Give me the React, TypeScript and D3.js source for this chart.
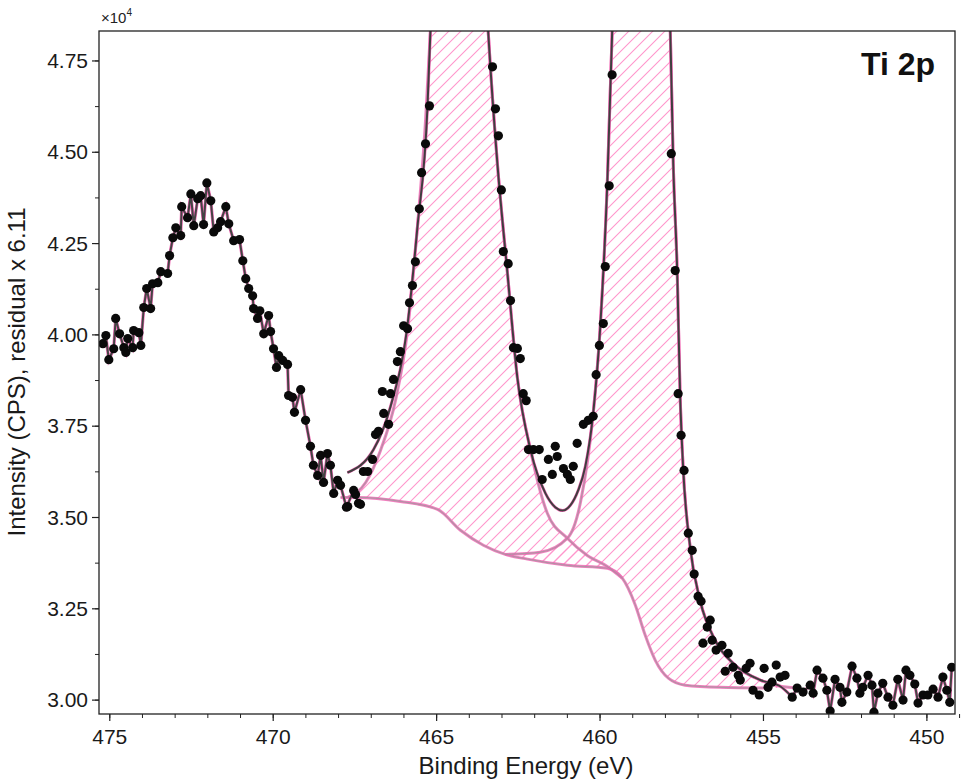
import React from "react"
import * as d3 from "d3"

type Pt = [number, number]

// measured points, [binding energy eV, intensity x1e4 CPS]
const dataLeft: Pt[] = [
  [475.21, 3.976], [475.12, 3.998], [475.03, 3.932], [474.88, 3.962], [474.82, 4.045], [474.7, 4.003],
  [474.57, 3.965], [474.51, 3.952], [474.45, 3.99], [474.3, 3.965], [474.27, 4.012], [474.11, 4.006],
  [474.05, 3.971], [473.96, 4.075], [473.87, 4.127], [473.75, 4.072], [473.69, 4.14], [473.53, 4.143],
  [473.44, 4.173], [473.23, 4.168], [473.17, 4.217], [473.07, 4.266], [472.98, 4.293], [472.83, 4.272],
  [472.8, 4.351], [472.62, 4.321], [472.52, 4.386], [472.43, 4.299], [472.31, 4.373], [472.22, 4.381],
  [472.13, 4.302], [472.03, 4.416], [471.91, 4.367], [471.82, 4.282], [471.7, 4.293], [471.61, 4.31],
  [471.45, 4.351], [471.36, 4.304], [471.21, 4.258], [471.03, 4.261], [470.93, 4.203], [470.84, 4.154],
  [470.75, 4.127], [470.63, 4.107], [470.6, 4.072], [470.48, 4.045], [470.41, 4.066], [470.29, 4.003],
  [470.14, 4.053], [470.08, 4.009], [469.99, 3.962], [469.9, 3.911], [469.83, 3.943], [469.71, 3.93],
  [469.56, 3.919], [469.53, 3.834], [469.41, 3.829], [469.35, 3.788], [469.16, 3.85], [469.01, 3.766],
  [468.86, 3.695], [468.77, 3.643], [468.64, 3.615], [468.55, 3.67], [468.46, 3.596], [468.34, 3.675],
  [468.25, 3.643], [468.15, 3.566], [468.03, 3.602], [467.94, 3.588], [467.76, 3.528], [467.54, 3.574],
  [467.48, 3.563], [467.39, 3.539],
]

const dataMid: Pt[] = [
  [467.72, 3.53], [467.33, 3.536], [467.24, 3.626], [467.11, 3.626], [466.96, 3.659], [466.87, 3.727],
  [466.78, 3.736], [466.62, 3.785], [466.47, 3.755], [466.66, 3.845], [466.41, 3.839], [466.32, 3.878],
  [466.2, 3.927], [466.11, 3.954], [466.01, 4.025], [465.89, 4.017], [465.83, 4.088], [465.74, 4.135],
  [465.65, 4.2], [465.53, 4.345], [465.46, 4.444], [465.34, 4.523], [465.22, 4.627], [463.29, 4.734],
  [463.2, 4.619], [463.11, 4.545], [463.02, 4.397], [462.96, 4.228], [462.81, 4.195], [462.74, 4.094],
  [462.65, 3.965], [462.53, 3.963], [462.44, 3.935], [462.35, 3.839], [462.26, 3.82], [462.19, 3.686],
  [462.04, 3.686], [461.86, 3.686], [461.58, 3.659], [461.37, 3.695], [461.31, 3.667], [461.77, 3.604],
  [461.46, 3.618], [461.12, 3.634], [461.0, 3.618], [460.91, 3.604], [460.82, 3.64], [460.7, 3.703],
  [460.51, 3.755], [460.36, 3.766], [460.21, 3.777], [460.12, 3.891], [460.02, 3.971], [459.9, 4.031],
  [459.84, 4.187], [459.72, 4.408], [459.63, 4.712], [457.82, 4.496], [457.7, 4.176], [457.61, 3.839],
  [457.52, 3.725], [457.43, 3.629], [457.3, 3.457], [457.18, 3.41], [457.12, 3.345], [457.0, 3.284],
  [456.91, 3.271], [456.63, 3.219], [456.72, 3.2], [456.85, 3.156], [456.57, 3.164], [456.45, 3.137],
  [456.27, 3.15], [456.08, 3.128], [456.17, 3.079], [455.93, 3.09], [455.77, 3.068], [455.71, 3.055],
  [455.53, 3.087], [455.41, 3.101], [455.32, 3.027], [455.13, 3.014], [454.98, 3.087], [454.86, 3.035],
  [454.74, 3.049], [454.61, 3.096], [454.49, 3.063], [454.34, 3.068],
]

const dataRight: Pt[] = [
  [454.12, 3.008], [453.97, 3.033], [453.79, 3.022], [453.57, 3.041], [453.48, 3.019], [453.36, 3.082],
  [453.18, 3.06], [453.06, 3.027], [452.96, 2.97], [452.81, 3.057], [452.66, 3.035], [452.6, 2.994],
  [452.45, 3.022], [452.29, 3.093], [452.14, 3.06], [452.05, 3.019], [451.96, 3.035], [451.8, 3.068],
  [451.68, 3.041], [451.62, 2.967], [451.5, 3.019], [451.35, 3.046], [451.19, 3.008], [451.04, 2.986],
  [450.89, 3.057], [450.73, 3.0], [450.64, 3.082], [450.52, 3.068], [450.37, 3.044], [450.27, 2.992],
  [450.12, 3.014], [449.97, 3.014], [449.81, 3.03], [449.66, 3.008], [449.51, 3.063], [449.39, 3.027],
  [449.3, 2.994], [449.24, 3.09],
]

// fitted curves
const background: Pt[] = [
  [467.94, 3.555], [467.42, 3.555], [466.11, 3.544], [464.97, 3.522], [464.27, 3.465], [463.57, 3.424],
  [462.9, 3.399], [462.22, 3.386], [461.0, 3.369], [459.78, 3.361], [459.32, 3.334], [458.92, 3.26],
  [458.62, 3.178], [458.31, 3.109], [457.91, 3.06], [457.4, 3.041], [456.33, 3.035], [454.8, 3.033],
]

const peak1: Pt[] = [
  [467.72, 3.555], [467.17, 3.596], [466.72, 3.683], [466.26, 3.82], [465.89, 4.012], [465.59, 4.293],
  [465.34, 4.586], [465.19, 4.832], [465.1, 4.969], [464.88, 5.3], [463.72, 5.3], [463.51, 4.969],
  [463.42, 4.827], [463.14, 4.468], [462.84, 4.176], [462.53, 3.883], [462.13, 3.686], [461.61, 3.511],
  [461.0, 3.443], [460.39, 3.396], [459.78, 3.366], [459.32, 3.334],
]

const peak2: Pt[] = [
  [462.9, 3.399], [461.83, 3.405], [461.0, 3.443], [460.6, 3.541], [460.21, 3.785], [459.99, 4.028],
  [459.78, 4.411], [459.63, 4.827], [459.57, 4.969], [459.38, 5.3], [458.1, 5.3], [457.91, 4.969],
  [457.85, 4.827], [457.76, 4.468], [457.64, 4.176], [457.55, 3.834], [457.46, 3.64], [457.24, 3.416],
  [456.94, 3.273], [456.48, 3.164], [455.87, 3.096], [455.1, 3.055], [454.49, 3.038], [453.88, 3.033],
]

const envelope: Pt[] = [
  [467.73, 3.623], [466.93, 3.686], [466.41, 3.804], [465.89, 4.028], [465.59, 4.293], [465.28, 4.624],
  [465.19, 4.832], [465.1, 4.969], [464.88, 5.3], [463.72, 5.3], [463.51, 4.969], [463.42, 4.827],
  [463.14, 4.468], [462.84, 4.176], [462.53, 3.883], [462.13, 3.686], [461.67, 3.566], [461.37, 3.528],
  [461.15, 3.519], [460.91, 3.533], [460.67, 3.574], [460.45, 3.64], [460.21, 3.785], [459.99, 4.028],
  [459.78, 4.411], [459.63, 4.827], [459.57, 4.969], [459.38, 5.3], [458.1, 5.3], [457.91, 4.969],
  [457.85, 4.827], [457.76, 4.468], [457.64, 4.176], [457.55, 3.834], [457.46, 3.64], [457.24, 3.416],
  [456.94, 3.273], [456.48, 3.164], [455.87, 3.096], [455.1, 3.055], [454.49, 3.038], [454.12, 3.008],
]

const xTicks = [475, 470, 465, 460, 455, 450]
const yTicks = [3.0, 3.25, 3.5, 3.75, 4.0, 4.25, 4.5, 4.75]

const W = 965
const H = 781
const m = { left: 99, top: 31, right: 10, bottom: 67 }
const PINK = "#f06bb5"
const FONT = "'Liberation Sans', Arial, sans-serif"

export default function App() {
  const x = d3.scaleLinear().domain([475.33, 449.14]).range([m.left, W - m.right])
  const y = d3.scaleLinear().domain([2.962, 4.832]).range([H - m.bottom, m.top])
  const line = d3.line<Pt>().x((d) => x(d[0])).y((d) => y(d[1])).curve(d3.curveMonotoneX)
  const rev = (a: Pt[]) => a.slice().sort((p, q) => q[0] - p[0])
  const raw = d3.line<Pt>().x((d) => x(d[0])).y((d) => y(d[1]))

  const bgInterp = (e: number) => {
    const b = rev(background)
    for (let i = 0; i < b.length - 1; i++) {
      if (e <= b[i][0] && e >= b[i + 1][0]) {
        const t = (b[i][0] - e) / (b[i][0] - b[i + 1][0])
        return b[i][1] + t * (b[i + 1][1] - b[i][1])
      }
    }
    return b[b.length - 1][1]
  }
  const area = d3
    .area<Pt>()
    .x((d) => x(d[0]))
    .y0((d) => y(bgInterp(d[0])))
    .y1((d) => y(d[1]))
    .curve(d3.curveMonotoneX)

  const minorX = d3.range(449, 476, 1)
  const minorY = d3.range(3.0, 4.83, 0.125)
  const pw = W - m.left - m.right
  const ph = H - m.top - m.bottom

  return (
    <svg width={W} height={H} style={{ position: "absolute", left: 0, top: 0 }} fontFamily={FONT}>
      <defs>
        <clipPath id="plot">
          <rect x={m.left} y={m.top} width={pw} height={ph} />
        </clipPath>
        <pattern id="hatch" patternUnits="userSpaceOnUse" width={12} height={12}>
          <path d="M-3,3 L3,-3 M0,12 L12,0 M9,15 L15,9" stroke="#ff96cc" strokeWidth={1.1} />
        </pattern>
      </defs>
      <rect width={W} height={H} fill="white" />
      <g clipPath="url(#plot)">
        <path d={area(rev(peak1))!} fill="url(#hatch)" />
        <path d={area(rev(peak2))!} fill="url(#hatch)" />
        {[background, peak1, peak2].map((c, i) => (
          <g key={i}>
            <path d={line(rev(c))!} fill="none" stroke={PINK} strokeWidth={3} strokeOpacity={0.85} />
            <path d={line(rev(c))!} fill="none" stroke="#999" strokeWidth={1.2} strokeOpacity={0.7} />
          </g>
        ))}
        <path d={line(rev(envelope))!} fill="none" stroke={PINK} strokeWidth={3} />
        <path d={line(rev(envelope))!} fill="none" stroke="#3f3f3f" strokeWidth={2} />
        {[dataLeft, dataRight].map((d, i) => (
          <g key={i}>
            <path d={raw(d)!} fill="none" stroke={PINK} strokeWidth={3.2} />
            <path d={raw(d)!} fill="none" stroke="#444" strokeWidth={2} />
          </g>
        ))}
        {[...dataLeft, ...dataMid, ...dataRight].map((d, i) => (
          <circle key={i} cx={x(d[0])} cy={y(d[1])} r={4.6} fill="#0a0a0a" />
        ))}
      </g>
      <rect x={m.left} y={m.top} width={pw} height={ph} fill="none" stroke="#222" strokeWidth={1.3} />
      {minorX.map((v) => (
        <line key={v} x1={x(v)} x2={x(v)} y1={H - m.bottom} y2={H - m.bottom + 4} stroke="#222" />
      ))}
      {xTicks.map((v) => (
        <g key={v}>
          <line x1={x(v)} x2={x(v)} y1={H - m.bottom} y2={H - m.bottom + 7} stroke="#222" strokeWidth={1.2} />
          <text x={x(v)} y={H - m.bottom + 30} textAnchor="middle" fontSize={21} fill="#1a1a1a">
            {v}
          </text>
        </g>
      ))}
      {minorY.map((v) => (
        <line key={v} x1={m.left - 4} x2={m.left} y1={y(v)} y2={y(v)} stroke="#222" />
      ))}
      {yTicks.map((v) => (
        <g key={v}>
          <line x1={m.left - 7} x2={m.left} y1={y(v)} y2={y(v)} stroke="#222" strokeWidth={1.2} />
          <text x={m.left - 11} y={y(v) + 7} textAnchor="end" fontSize={21} fill="#1a1a1a">
            {v.toFixed(2)}
          </text>
        </g>
      ))}
      <text x={101} y={23} fontSize={15} fill="#222">
        ×10<tspan dy={-7} fontSize={10}>4</tspan>
      </text>
      <text x={935} y={75} textAnchor="end" fontSize={32} fontWeight="bold" fill="#111">
        Ti 2p
      </text>
      <text x={526} y={774} textAnchor="middle" fontSize={24} fill="#1a1a1a">
        Binding Energy (eV)
      </text>
      <text transform={`translate(25,372) rotate(-90)`} textAnchor="middle" fontSize={24} fill="#1a1a1a">
        Intensity (CPS), residual x 6.11
      </text>
    </svg>
  )
}
